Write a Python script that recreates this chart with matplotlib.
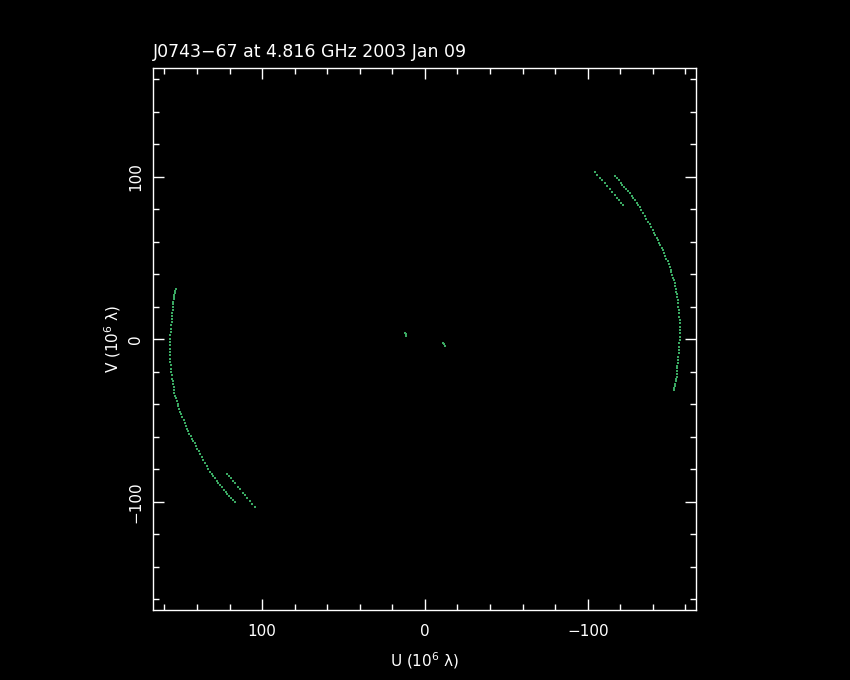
import numpy as np
import matplotlib
matplotlib.use("Agg")
import matplotlib.pyplot as plt
from matplotlib.ticker import MultipleLocator

# uv-Abdeckung (10^6 lambda); die konjugierten Punkte (-u,-v) werden mitgezeichnet
long_u = [-116.7, -117.85, -119.0, -120.15, -121.3, -122.45, -123.6, -124.75, -125.9, -126.9,
          -127.9, -128.95, -130.0, -131.0, -132.0, -133.0, -134.0, -135.0, -136.0, -137.0,
          -138.0, -139.0, -140.0, -140.75, -141.5, -142.25, -143.0, -143.8, -144.6, -145.35,
          -146.1, -146.8, -147.5, -148.25, -149.0, -149.7, -150.4, -150.9, -151.4, -151.95,
          -152.5, -153.0, -153.5, -153.8, -154.1, -154.4, -154.7, -155.0, -155.3, -155.5,
          -155.7, -155.9, -156.1, -156.3, -156.5, -156.55, -156.6, -156.6, -156.6, -156.55,
          -156.5, -156.35, -156.2, -156.0, -155.8, -155.55, -155.3, -155.2, -155.1, -155.0,
          -154.9, -154.8, -154.7, -154.4, -154.1, -153.8, -153.5, -153.2, -152.9]
long_v = [100.4, 99.1, 97.8, 96.5, 95.2, 93.85, 92.5, 91.2, 89.9, 88.5,
          87.1, 85.65, 84.2, 82.8, 81.4, 79.6, 77.8, 76.05, 74.3, 72.5,
          70.7, 68.95, 67.2, 65.65, 64.1, 62.6, 61.1, 59.55, 58.0, 56.45,
          54.9, 53.15, 51.4, 49.7, 48.0, 46.25, 44.5, 42.85, 41.2, 39.55,
          37.9, 36.25, 34.6, 32.85, 31.1, 29.4, 27.7, 25.95, 24.2, 22.15,
          20.1, 18.05, 16.0, 13.95, 11.9, 9.85, 7.8, 5.75, 3.7, 1.65,
          -0.4, -2.45, -4.5, -6.55, -8.6, -10.65, -12.7, -14.45, -16.2, -17.95,
          -19.7, -21.45, -23.2, -24.55, -25.9, -27.2, -28.5, -29.85, -31.2]

short_u = [-104.4, -105.9, -107.4, -109.0, -110.5, -112.0, -113.6, -115.1, -116.6,
           -117.8, -119.0, -120.3, -121.5]
short_v = [102.9, 101.2, 99.5, 97.8, 96.1, 94.3, 92.4, 90.6, 88.7,
           87.2, 85.6, 84.1, 82.6]

core_u = [12.2, 11.8, 11.4]
core_v = [4.0, 3.0, 2.2]

title = "J0743\u221267 at 4.816 GHz 2003 Jan 09"
dot_color = "#3aa862"

fig = plt.figure(figsize=(8.5, 6.8), dpi=100, facecolor="black")
ax = fig.add_axes([153 / 850, 70 / 680, 543 / 850, 542 / 680])
ax.set_facecolor("black")

for u, v in [(long_u, long_v), (short_u, short_v), (core_u, core_v)]:
    u = np.array(u)
    v = np.array(v)
    ax.plot(u, v, ls="none", marker="s", ms=1.5, mew=0, color=dot_color)
    ax.plot(-u, -v, ls="none", marker="s", ms=1.5, mew=0, color=dot_color)

ax.set_xlim(167, -166.5)
ax.set_ylim(-166.6, 167)

for sp in ax.spines.values():
    sp.set_color("white")
    sp.set_linewidth(1)

ax.xaxis.set_major_locator(MultipleLocator(100))
ax.xaxis.set_minor_locator(MultipleLocator(20))
ax.yaxis.set_major_locator(MultipleLocator(100))
ax.yaxis.set_minor_locator(MultipleLocator(20))
ax.tick_params(which="both", direction="in", top=True, right=True,
               colors="white", width=1, labelsize=11)
ax.tick_params(which="major", length=8)
ax.tick_params(which="minor", length=4)
ax.tick_params(axis="x", pad=10)
ax.tick_params(axis="y", pad=7)
plt.setp(ax.get_yticklabels(), rotation=90, va="center")

ax.set_xlabel("U (10$^6$ \u03bb)", color="white", fontsize=11)
ax.set_ylabel("V (10$^6$ \u03bb)", color="white", fontsize=11)
ax.xaxis.set_label_coords(0.5, -0.094)
ax.xaxis.label.set_va("center")
ax.yaxis.set_label_coords(-0.0737, 0.5)
ax.yaxis.label.set_va("center")

fig.text(153 / 850, 1 - 57 / 680, title, color="white", fontsize=12.5,
         ha="left", va="baseline")

fig.savefig("out.png", dpi=100, facecolor="black")
